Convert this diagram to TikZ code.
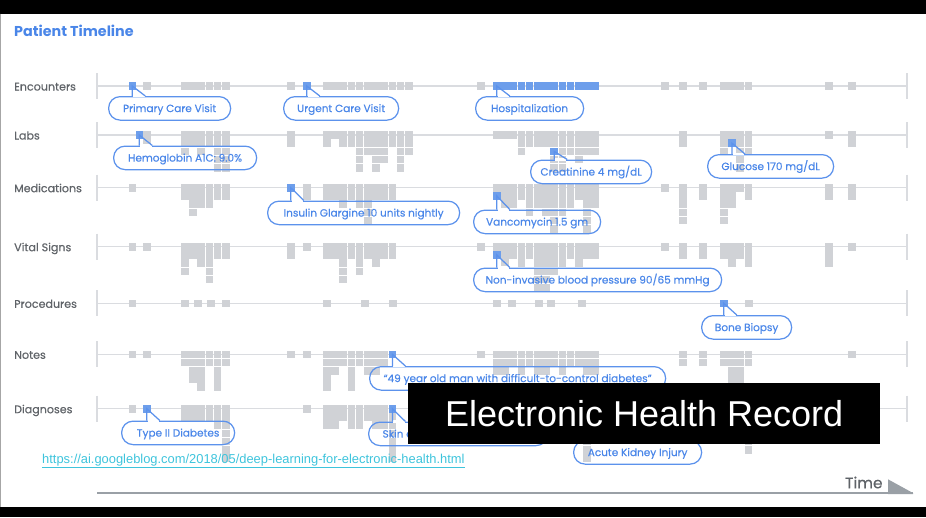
\documentclass[tikz,border=0pt]{standalone}
\usepackage{fontspec}
\setmainfont{Poppins}
\newfontfamily\medfont{Poppins}[FakeBold=0.45]
\newfontfamily\arial{Liberation Sans}
\usetikzlibrary{calc}

\definecolor{cellgray}{HTML}{D0D2D6}
\definecolor{cellblue}{HTML}{6D9EEB}
\definecolor{trackgray}{HTML}{DADCE0}
\definecolor{pillblue}{HTML}{4A86E8}
\definecolor{pilledge}{HTML}{5C92EC}
\definecolor{labelgray}{HTML}{5F6368}
\definecolor{axisgray}{HTML}{9AA0A6}
\definecolor{urlcyan}{HTML}{3EC4DC}

% stack of cells: [colour]{x}{y}{heights}
\newcommand\cells[4][cellgray]{%
  \foreach \h [count=\c from 0] in {#4} {%
    \ifnum\h>0
      \foreach \r in {1,...,\h}
        \fill[#1] ({#2+\c*8.2},{#3-3.8+(\r-1)*8.2}) rectangle ++(7.6,7.6);
    \fi}}

% one row: name, y, label
\newcommand\track[3]{%
  \node[rowlabel] (#1) at (14,#2+4.5) {#3};
  \coordinate (#1a) at (97,#2);
  \coordinate (#1b) at (907,#2);
  \draw[trackline] (#1a) -- (#1b);
  \draw[trackline] ($(#1a)+(0,-13)$) -- ($(#1a)+(0,13)$);
  \draw[trackline] ($(#1b)+(0,-13)$) -- ($(#1b)+(0,13)$);}

% callout: name, cell, left, right, top, text
\newcommand\callout[6]{%
  \node[pill, minimum width=#4-#3, anchor=north west] (#1) at (#3,#5) {#6};
  \coordinate (#1p) at (#2 |- #1.north);
  \fill[white] ($(#1p)+(0.8,-1.3)$) rectangle ($(#1p)+(12.2,1.3)$);
  \draw[pointer] (#1p) -- (#2.center) -- ($(#1p)+(13,0)$);}

\begin{document}
\begin{tikzpicture}[x=1pt, y=-1pt,
  rowlabel/.style={anchor=base west, inner sep=0, text=labelgray, font=\medfont\fontsize{11.1}{13}\selectfont},
  trackline/.style={draw=trackgray, line width=1.4},
  pill/.style={draw=pilledge, line width=1.25, rounded corners=11.5, minimum height=23.5, inner sep=0,
    text=pillblue, font=\medfont\fontsize{10.5}{12}\selectfont, text height=7.4, text depth=0},
  pointer/.style={draw=pilledge, line width=1.25},
  bluecell/.style={fill=cellblue, minimum size=7.6, inner sep=0, outer sep=0}]
\useasboundingbox (0,0) rectangle (926,517);

% frame
\fill[black] (0,0) rectangle (926,13.5);
\fill[black] (0,507) rectangle (926,517);
\draw[gray!70, line width=1] (0.5,13.5) -- (0.5,507);

\node[anchor=base west, inner sep=0, text=pillblue, font=\bfseries\fontsize{14.3}{17}\selectfont] (title) at (14,36) {Patient Timeline};

\track{enc}{86}{Encounters}
\track{lab}{135}{Labs}
\track{med}{187.7}{Medications}
\track{vit}{246.7}{Vital Signs}
\track{pro}{303.3}{Procedures}
\track{not}{354.3}{Notes}
\track{dia}{408.7}{Diagnoses}

% encounters
\cells{143}{86}{1}
\cells{181}{86}{1,1,1,1,1,1}
\cells{287}{86}{1}
\cells{323}{86}{1,1,1,1,1,1,1,1,1,1,1}
\cells{477}{86}{1}
\cells[cellblue]{493}{86}{1,1,1,1,1,1,1,1,1,1,1,1,1}
\cells{661}{86}{1}
\cells{679}{86}{1}
\cells{699}{86}{1}
\cells{720}{86}{1,1,1,1}
\cells{825}{86}{1}
\cells{848}{86}{1}

% labs
\cells{143}{135}{2}
\cells{181}{135}{3,2,3,2,5,5}
\cells{287}{135}{2}
\cells{323}{135}{2,1,2,2,5,3,5,4,2,5,3}
\cells{493}{135}{1,1,1,3,2,2,2,5,5,3,4,3,3}
\cells{679}{135}{2}
\cells{720}{135}{3,2,5,3}
\cells{825}{135}{1}
\cells{848}{135}{2}

% medications
\cells{128.5}{187.7}{1}
\cells{181}{187.7}{2,4,3,3,2,2}
\cells{303}{187.7}{2}
\cells{323}{187.7}{2,2,3,2,3,5,2,2,2}
\cells{493}{187.7}{2,3,3,2,4,3,4,6,4,3,2,6,3}
\cells{661}{187.7}{1}
\cells{679}{187.7}{5}
\cells{699}{187.7}{2}
\cells{720}{187.7}{5,3,1,2}
\cells{825}{187.7}{2}
\cells{848}{187.7}{2}

% vital signs
\cells{128.5}{246.7}{1}
\cells{143}{246.7}{1}
\cells{181}{246.7}{4,2,3,5,2,2}
\cells{287}{246.7}{2}
\cells{303}{246.7}{1}
\cells{323}{246.7}{2,2,5,2,4,2,3,2,2}
\cells{477}{246.7}{1}
\cells{493}{246.7}{2,3,2,3,2,6,6,4,3,2,3,2,2}
\cells{661}{246.7}{1}
\cells{679}{246.7}{2}
\cells{699}{246.7}{2}
\cells{720}{246.7}{2,3,2,3}
\cells{825}{246.7}{3}
\cells{848}{246.7}{1}

% procedures
\foreach \x in {128.5,181,194,207,222,323,361,389,493,508,535,547,578,745} {
  \cells{\x}{303.3}{1}
}

% notes
\cells{128.5}{354.3}{1}
\cells{143}{354.3}{1}
\cells{181}{354.3}{2,4,5,2,5,2}
\cells{287}{354.3}{1}
\cells{303}{354.3}{1}
\cells{323}{354.3}{5,3,2,5,2,3,3,2,1}
\cells{477}{354.3}{1}
\cells{493}{354.3}{3,3,2,3,2,3,3,2,3,2,2,3,3}
\cells{679}{354.3}{2}
\cells{699}{354.3}{2}
\cells{720}{354.3}{2,4,4,2}
\cells{848}{354.3}{1}

% diagnoses
\cells{128.5}{408.7}{1}
\cells{181}{408.7}{2,2,2,2,3,7}
\cells{303}{408.7}{1}
\cells{323}{408.7}{3,3,2,3,3,2,3,3,7}
\cells{493}{408.7}{2,2,2,2,2,2,2,2,2,2,2,7,2}
\cells{720}{408.7}{2,2,2,6}

% highlighted cells
\node[bluecell] (pcv) at (132.3,86) {};
\node[bluecell] (ucv) at (306.8,86) {};
\node[bluecell] (hosp) at (496.8,86) {};
\node[bluecell] (hba) at (139.3,135) {};
\node[bluecell] (crea) at (554.2,151.4) {};
\node[bluecell] (glu) at (732,143.2) {};
\node[bluecell] (ins) at (290.8,187.7) {};
\node[bluecell] (vanc) at (496.8,195.9) {};
\node[bluecell] (nibp) at (496.8,254.9) {};
\node[bluecell] (biop) at (723.8,303.3) {};
\node[bluecell] (note) at (392.4,354.3) {};
\node[bluecell] (skin) at (392.4,408.7) {};
\node[bluecell] (aki) at (595.2,408.7) {};
\node[bluecell] (t2d) at (146.8,408.7) {};

\callout{pcvt}{pcv}{108}{230}{96}{Primary Care Visit}
\callout{ucvt}{ucv}{283}{398}{96}{Urgent Care Visit}
\callout{hospt}{hosp}{475}{583}{96}{Hospitalization}
\callout{hbat}{hba}{113}{256}{145.5}{Hemoglobin A1C: 9.0\%}
\callout{creat}{crea}{530}{651}{159.5}{Creatinine 4 mg/dL}
\callout{glut}{glu}{707}{833}{154}{Glucose 170 mg/dL}
\callout{inst}{ins}{267}{459}{200.5}{Insulin Glargine 10 units nightly}
\callout{vanct}{vanc}{473}{600}{209.5}{Vancomycin 1.5 gm}
\callout{nibpt}{nibp}{473}{721}{267.5}{Non-invasive blood pressure 90/65 mmHg}
\callout{biopt}{biop}{701}{791}{315}{Bone Biopsy}
\callout{notet}{note}{369}{665}{366}{“49 year old man with difficult-to-control diabetes”}
\callout{skint}{skin}{368}{547}{421.5}{Skin and Soft Tissue Infection}
\callout{akit}{aki}{573}{701}{440}{Acute Kidney Injury}
\callout{t2dt}{t2d}{121}{234}{420.5}{Type II Diabetes}

% time axis
\coordinate (t0) at (97,493);
\coordinate (t1) at (913,493);
\draw[axisgray, line width=2] (t0) -- (t1);
\fill[axisgray] (888,479.3) -- (t1) -- ++(0,1) -- (888,494) -- cycle;
\node[anchor=base west, inner sep=0, text=labelgray, font=\medfont\fontsize{15.3}{18}\selectfont] (time) at (845,488.3) {Time};

\node[anchor=base west, inner sep=0, text=urlcyan, font=\arial\fontsize{12.9}{15}\selectfont] (url) at (42,463.5)
  {\underline{https://ai.googleblog.com/2018/05/deep-learning-for-electronic-health.html}};

\node[fill=black, text=white, minimum width=471.5, minimum height=61, inner sep=0,
  font=\arial\fontsize{36}{40}\selectfont] (ehr) at (644.2,413.8) {Electronic Health Record};
\end{tikzpicture}
\end{document}
